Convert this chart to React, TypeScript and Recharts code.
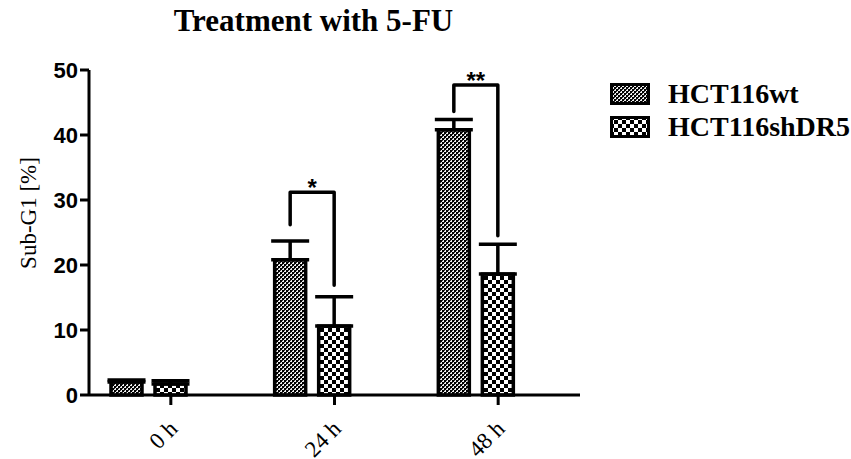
import React from 'react';
import { BarChart, Bar, XAxis, YAxis, ErrorBar, Legend } from 'recharts';

const categories = ['0 h', '24 h', '48 h'];
const wtValues = [2.0, 20.8, 40.8];
const wtErrors = [0.3, 2.9, 1.6];
const shValues = [1.7, 10.6, 18.6];
const shErrors = [0.5, 4.5, 4.6];
const bracketTop: (number | null)[] = [null, 31.2, 47.7];
const bracketLeftEnd: (number | null)[] = [null, 26.2, 43.6];
const bracketRightEnd: (number | null)[] = [null, 16.9, 24.5];
const sigLabels = ['', '*', '**'];
const yTicks = [0, 10, 20, 30, 40, 50];
const seriesNames = { wt: 'HCT116wt', sh: 'HCT116shDR5' };
const seriesOrder = ['wt', 'sh'];

const BAR_SIZE = 31;
const BAR_GAP = 13;

const data = categories.map((name, i) => ({
  name,
  wt: wtValues[i],
  wtErr: [0, wtErrors[i]],
  sh: shValues[i],
  shErr: [0, shErrors[i]],
  bTop: bracketTop[i],
  bLeft: bracketLeftEnd[i],
  bRight: bracketRightEnd[i],
  sig: sigLabels[i],
}));

const Patterns = ({ prefix }: { prefix: string }) => (
  <defs>
    <pattern id={`${prefix}wt`} width="4" height="4" patternUnits="userSpaceOnUse">
      <rect width="4" height="4" fill="#eee" />
      <rect width="2" height="2" fill="#000" />
      <rect x="2" y="2" width="2" height="2" fill="#000" />
      <rect x="2" y="0" width="1" height="1" fill="#333" />
      <rect x="0" y="2" width="1" height="1" fill="#333" />
    </pattern>
    <pattern id={`${prefix}sh`} width="8" height="8" patternUnits="userSpaceOnUse">
      <rect width="8" height="8" fill="#fff" />
      <rect width="4" height="4" fill="#000" />
      <rect x="4" y="4" width="4" height="4" fill="#000" />
    </pattern>
  </defs>
);

const WtShape = (props: any) => {
  const { x, y, width, height } = props;
  return (
    <rect x={x} y={y} width={width} height={height} fill="url(#pwt)" stroke="#000" strokeWidth={3.5} />
  );
};

const ShShape = (props: any) => {
  const { x, y, width, height, payload } = props;
  const value = payload.sh;
  const base = y + height;
  const ppu = height / value;
  const toY = (v: number) => base - v * ppu;
  const cx = x + width / 2;
  const lx = cx - (BAR_SIZE + BAR_GAP);
  return (
    <g>
      <rect x={x} y={y} width={width} height={height} fill="url(#psh)" stroke="#000" strokeWidth={3.5} />
      {payload.bTop != null && (
        <g>
          <path
            d={`M${lx},${toY(payload.bLeft)} V${toY(payload.bTop)} H${cx} V${toY(payload.bRight)}`}
            fill="none"
            stroke="#000"
            strokeWidth={3.5}
            strokeLinejoin="round"
            strokeLinecap="round"
          />
          <text
            x={(lx + cx) / 2}
            y={toY(payload.bTop) + 4}
            textAnchor="middle"
            fontFamily="Liberation Sans"
            fontWeight="bold"
            fontSize={24}
            fill="#000"
          >
            {payload.sig}
          </text>
        </g>
      )}
    </g>
  );
};

const XTick = (props: any) => {
  const { x, y, payload } = props;
  return (
    <g>
      <line x1={x} y1={y} x2={x} y2={y + 10} stroke="#000" strokeWidth={3} />
      <text
        x={x + 8}
        y={y + 35}
        textAnchor="end"
        transform={`rotate(-45, ${x + 8}, ${y + 35})`}
        fontFamily="Liberation Serif"
        fontSize={23}
        fill="#000"
      >
        {payload.value}
      </text>
    </g>
  );
};

const LegendContent = (props: any) => {
  const items = (props.payload || [])
    .filter((e: any) => e.type !== 'none')
    .slice()
    .sort((a: any, b: any) => seriesOrder.indexOf(a.dataKey) - seriesOrder.indexOf(b.dataKey));
  return (
    <div>
      {items.map((e: any) => (
        <div key={e.dataKey} style={{ display: 'flex', alignItems: 'center', height: 33 }}>
          <svg width={40} height={22} style={{ display: 'block' }}>
            <Patterns prefix={`lg${e.dataKey}`} />
            <rect x={1.5} y={1.5} width={37} height={19} fill={`url(#lg${e.dataKey}${e.dataKey})`} stroke="#000" strokeWidth={3} />
          </svg>
          <span
            style={{
              marginLeft: 18,
              fontFamily: 'Liberation Serif',
              fontWeight: 'bold',
              fontSize: 28,
              lineHeight: '28px',
              color: '#000',
              whiteSpace: 'nowrap',
            }}
          >
            {e.value}
          </span>
        </div>
      ))}
    </div>
  );
};

const YLabel = () => (
  <text
    x={36}
    y={213}
    transform="rotate(-90, 36, 213)"
    textAnchor="middle"
    fontFamily="Liberation Serif"
    fontSize={23}
    fill="#000"
  >
    Sub-G1 [%]
  </text>
);

export default function App() {
  return (
    <div style={{ position: 'absolute', left: 0, top: 0, width: 851, height: 459, background: '#fff' }}>
      <div
        style={{
          position: 'absolute',
          left: 0,
          top: 5,
          width: 627,
          textAlign: 'center',
          fontFamily: 'Liberation Serif',
          fontWeight: 'bold',
          fontSize: 31,
          lineHeight: '31px',
          color: '#000',
          zIndex: 2,
        }}
      >
        Treatment with 5-FU
      </div>
      <BarChart
        width={851}
        height={459}
        data={data}
        margin={{ top: 70, right: 271, bottom: 0, left: 0 }}
        barSize={BAR_SIZE}
        barGap={BAR_GAP}
      >
        <Patterns prefix="p" />
        <XAxis
          dataKey="name"
          height={64}
          axisLine={{ stroke: '#000', strokeWidth: 3 }}
          tickLine={false}
          tickSize={0}
          tickMargin={0}
          interval={0}
          tick={<XTick />}
        />
        <YAxis
          domain={[0, 50]}
          ticks={yTicks}
          width={89}
          interval={0}
          tickSize={9}
          tickMargin={2}
          axisLine={{ stroke: '#000', strokeWidth: 3 }}
          tickLine={{ stroke: '#000', strokeWidth: 3 }}
          tick={{ fill: '#000', fontSize: 22, fontWeight: 'bold', fontFamily: 'Liberation Sans' }}
          label={<YLabel />}
        />
        <Legend
          layout="vertical"
          align="center"
          verticalAlign="middle"
          content={<LegendContent />}
          wrapperStyle={{ position: 'absolute', left: 610, top: 77, width: 241, height: 70 }}
        />
        <Bar dataKey="wt" name={seriesNames.wt} shape={<WtShape />} fill="url(#pwt)" isAnimationActive={false}>
          <ErrorBar dataKey="wtErr" width={19} strokeWidth={3.5} stroke="#000" direction="y" />
        </Bar>
        <Bar dataKey="sh" name={seriesNames.sh} shape={<ShShape />} fill="url(#psh)" isAnimationActive={false}>
          <ErrorBar dataKey="shErr" width={19} strokeWidth={3.5} stroke="#000" direction="y" />
        </Bar>
        <Bar dataKey="spacer" legendType="none" fill="none" isAnimationActive={false} />
      </BarChart>
    </div>
  );
}
